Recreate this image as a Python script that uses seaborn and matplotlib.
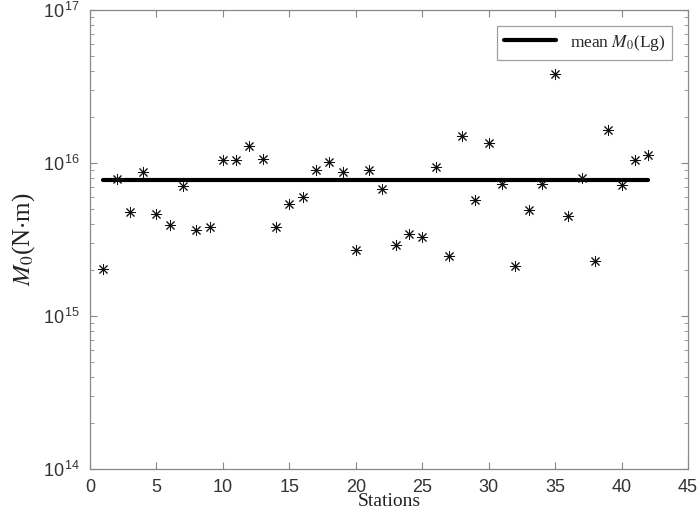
import numpy as np
import pandas as pd
import matplotlib
matplotlib.use("Agg")
import matplotlib.pyplot as plt
import matplotlib.ticker as mticker
from matplotlib.lines import Line2D
import seaborn as sns

stations = list(range(1, 43))
m0_values = [2.03e15, 7.86e15, 4.76e15, 8.77e15, 4.64e15, 3.93e15, 7.04e15, 3.63e15,
             3.83e15, 1.05e16, 1.05e16, 1.30e16, 1.06e16, 3.82e15, 5.42e15, 6.02e15,
             9.00e15, 1.02e16, 8.74e15, 2.69e15, 8.96e15, 6.76e15, 2.92e15, 3.44e15,
             3.28e15, 9.42e15, 2.48e15, 1.49e16, 5.70e15, 1.36e16, 7.32e15, 2.13e15,
             4.91e15, 7.32e15, 3.82e16, 4.48e15, 8.02e15, 2.28e15, 1.64e16, 7.15e15,
             1.04e16, 1.12e16]
mean_m0 = 7.80e15
mean_x = [1, 42]
x_ticks = [0, 5, 10, 15, 20, 25, 30, 35, 40, 45]
y_ticks = [1e14, 1e15, 1e16, 1e17]

sns.set_style("white")
plt.rcParams['font.family'] = ['Liberation Sans', 'DejaVu Sans']
plt.rcParams['mathtext.fontset'] = 'stix'

df = pd.DataFrame({"Stations": stations, "M0": m0_values})
df_mean = pd.DataFrame({"x": mean_x, "y": [mean_m0, mean_m0]})

fig = plt.figure(figsize=(7.0, 5.15), dpi=100)
ax = fig.add_axes([0.1286, 0.0893, 0.8543, 0.8913])

sns.lineplot(data=df_mean, x="x", y="y", ax=ax, color="black", linewidth=3.0,
             legend=False)
sns.scatterplot(data=df, x="Stations", y="M0", ax=ax, marker=(8, 2, 0),
                color="#111111", s=55, linewidth=0.7, legend=False, zorder=3)

ax.set_yscale("log")
ax.set_xlim(0, 45)
ax.set_ylim(1e14, 1e17)
ax.set_xticks(x_ticks)
ax.set_yticks(y_ticks)
ax.yaxis.set_major_formatter(mticker.FuncFormatter(
    lambda v, p: r"$\mathdefault{10^{\,%d}}$" % int(round(np.log10(v)))))
ax.yaxis.set_minor_locator(mticker.LogLocator(base=10, subs=np.arange(2, 10)))
ax.yaxis.set_minor_formatter(mticker.NullFormatter())

spine_col = "#888888"
for s in ax.spines.values():
    s.set_visible(True)
    s.set_color(spine_col)
    s.set_linewidth(0.9)
ax.tick_params(which="both", direction="in", top=True, right=True, left=True,
               bottom=True, color=spine_col, labelcolor="#333333", labelsize=13)
ax.tick_params(axis="x", which="major", pad=7)
ax.tick_params(axis="y", which="major", pad=7)
ax.tick_params(which="major", length=5, width=0.8)
ax.tick_params(which="minor", length=3, width=0.6)

ax.set_xlabel("Stations", fontsize=14, family="Liberation Serif", color="#222222",
              labelpad=-2)
ax.set_ylabel(r"$M_0$(N$\cdot$m)", fontsize=18, family="Liberation Serif",
              color="#222222", labelpad=4)

handle = Line2D([0], [0], color="black", linewidth=3.0)
leg = ax.legend([handle], [r"mean $M_0$(Lg)"], loc="upper right",
                prop={"family": "Liberation Serif", "size": 12.5},
                frameon=True, fancybox=False, edgecolor="#888888",
                borderaxespad=0.9, handlelength=3.0, borderpad=0.4)
leg.get_frame().set_linewidth(0.9)

fig.savefig("out.png", dpi=100)
